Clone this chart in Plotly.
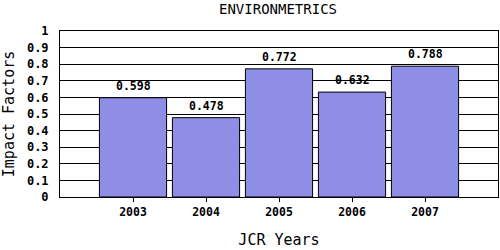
import plotly.graph_objects as go

years = ["2003", "2004", "2005", "2006", "2007"]
impact = [0.598, 0.478, 0.772, 0.632, 0.788]
yticks = [0, 0.1, 0.2, 0.3, 0.4, 0.5, 0.6, 0.7, 0.8, 0.9, 1]
ytick_text = ["0", "0.1", "0.2", "0.3", "0.4", "0.5", "0.6", "0.7", "0.8", "0.9", "1"]

xpos = list(range(1, len(years) + 1))
mono = "DejaVu Sans Mono"

fig = go.Figure()
fig.add_trace(go.Bar(
    x=xpos, y=impact, width=0.92,
    marker=dict(color="#8e8ee6", line=dict(color="black", width=1)),
    hoverinfo="skip",
))
for xv, v in zip(xpos, impact):
    fig.add_annotation(x=xv, y=v, text=f"{v:.3f}", showarrow=False,
                       yanchor="bottom", yshift=3,
                       font=dict(family=mono, size=11.5, color="black", weight="bold"))

fig.update_layout(
    width=500, height=250,
    margin=dict(l=60, r=2, t=31, b=53),
    paper_bgcolor="white", plot_bgcolor="white",
    showlegend=False,
    title=dict(text="ENVIRONMETRICS", x=0.556, xanchor="center", y=0.962, yanchor="middle",
               font=dict(family=mono, size=14, color="black")),
    xaxis=dict(range=[0, 6], tickvals=xpos, ticktext=years,
               showgrid=False, showline=True, linecolor="black", linewidth=1, mirror=True,
               ticks="outside", ticklen=4, tickcolor="black",
               tickfont=dict(family=mono, size=11.5, color="black", weight="bold"),
               title=dict(text="JCR Years", standoff=16,
                          font=dict(family=mono, size=15, color="black")),
               zeroline=False, fixedrange=True),
    yaxis=dict(range=[0, 1], tickvals=yticks, ticktext=ytick_text,
               showgrid=True, gridcolor="black", gridwidth=1,
               showline=True, linecolor="black", linewidth=1, mirror=True,
               ticks="", ticklabelstandoff=8,
               tickfont=dict(family=mono, size=12, color="black", weight="bold"),
               title=dict(text="Impact Factors", standoff=8,
                          font=dict(family=mono, size=15, color="black")),
               zeroline=False, fixedrange=True),
)

fig.write_html("out.html", config={"displayModeBar": False})
